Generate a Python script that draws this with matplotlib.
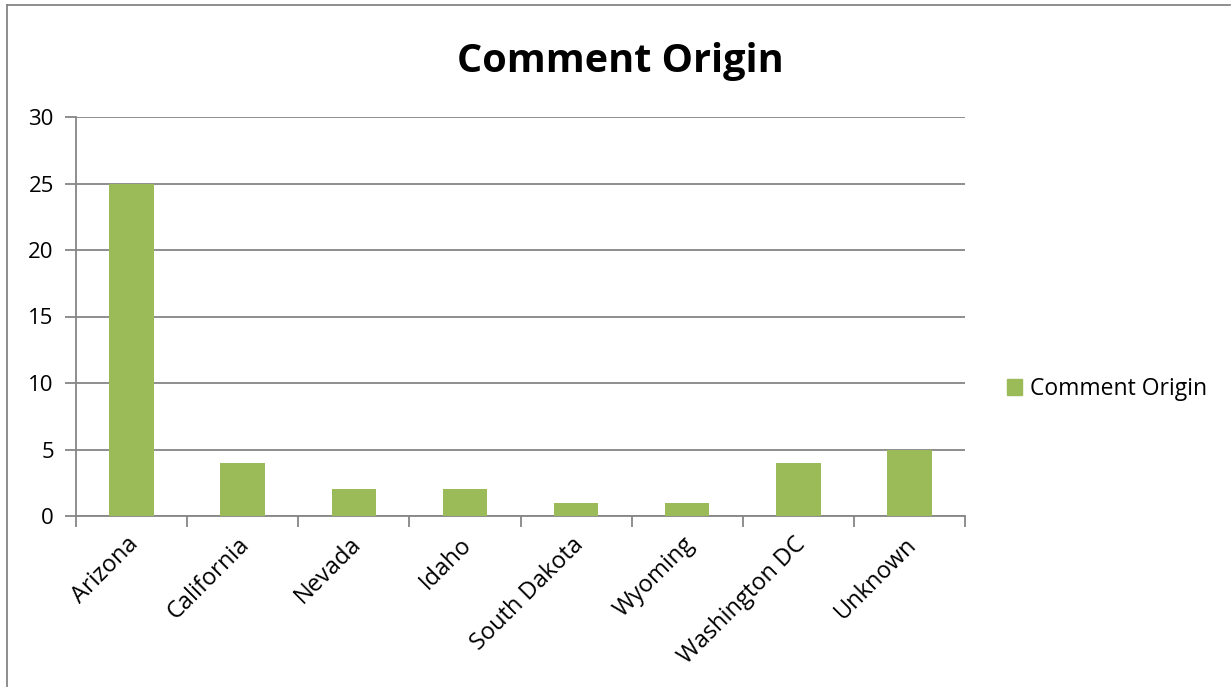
import matplotlib
matplotlib.use("Agg")
import matplotlib.pyplot as plt
import matplotlib.transforms as mtrans
from matplotlib.patches import Rectangle
from matplotlib.lines import Line2D

categories = ["Arizona", "California", "Nevada", "Idaho", "South Dakota",
              "Wyoming", "Washington DC", "Unknown"]
values = [25, 4, 2, 2, 1, 1, 4, 5]
series_name = "Comment Origin"
title = "Comment Origin"
yticks = [0, 5, 10, 15, 20, 25, 30]

plt.rcParams['font.family'] = ['Open Sans', 'DejaVu Sans']

W, H = 1231, 687
fig = plt.figure(figsize=(W / 100, H / 100), dpi=100)

ax = fig.add_axes([76 / W, 1 - 516 / H, (965 - 76) / W, (516 - 117) / H])
green = "#9BBB59"
grid_c = "#868686"

x = list(range(len(categories)))
ax.bar(x, values, width=0.4, color=green, edgecolor="none", zorder=3,
       label=series_name)
ax.set_xlim(-0.5, len(categories) - 0.5)
ax.set_ylim(0, 30)
ax.set_yticks(yticks)
ax.set_yticklabels([str(v) for v in yticks], fontsize=16)
ax.yaxis.grid(True, color=grid_c, linewidth=1.3, zorder=0)
ax.tick_params(axis='y', length=8, width=1.3, color=grid_c, pad=8)

# category ticks between bars
ax.set_xticks([i - 0.5 for i in range(len(categories) + 1)], minor=False)
ax.set_xticklabels([""] * (len(categories) + 1))
ax.tick_params(axis='x', which='major', length=8, width=1.3, color=grid_c)
ax.set_xticks(x, minor=True)
ax.set_xticklabels(categories, minor=True, rotation=45, ha='right',
                   rotation_mode='anchor', fontsize=17)
ax.tick_params(axis='x', which='minor', length=0, pad=12)
offset = mtrans.ScaledTranslation(-5 / 100, 0, fig.dpi_scale_trans)
for lbl in ax.get_xticklabels(minor=True):
    lbl.set_transform(lbl.get_transform() + offset)

for s in ['top', 'right']:
    ax.spines[s].set_visible(False)
for s in ['left', 'bottom']:
    ax.spines[s].set_color(grid_c)
    ax.spines[s].set_linewidth(1.3)

fig.text(620 / W, 1 - 72 / H, title, ha='center', va='baseline',
         fontsize=28.5, fontweight='bold')

# legend
leg = fig.legend(handles=[Rectangle((0, 0), 1, 1, color=green)],
                 labels=[series_name], loc='center left',
                 bbox_to_anchor=(1007 / W, 1 - 389 / H), frameon=False,
                 fontsize=16.5, handlelength=0.65, handleheight=0.65,
                 handletextpad=0.35, borderpad=0, borderaxespad=0)

# chart border
fig.add_artist(Line2D([7 / W, 7 / W], [0, 1 - 5 / H], transform=fig.transFigure,
                      color="#868686", linewidth=1.3))
fig.add_artist(Line2D([7 / W, 1230 / W], [1 - 5 / H, 1 - 5 / H],
                      transform=fig.transFigure, color="#868686", linewidth=1.3))

fig.savefig("out.png", dpi=100)
